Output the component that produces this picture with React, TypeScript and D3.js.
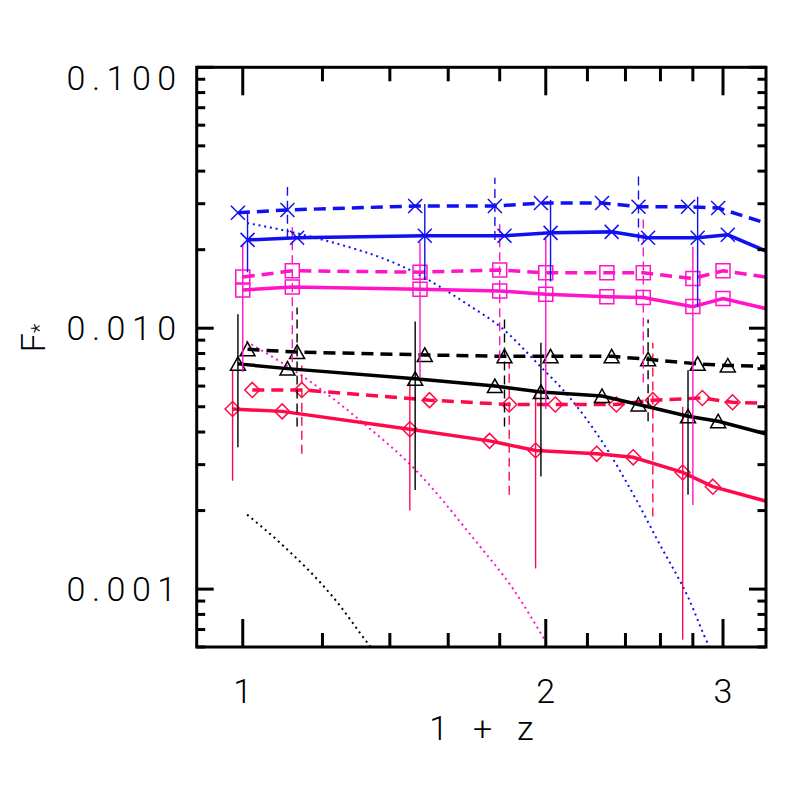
import React from 'react';
import * as d3 from 'd3';

// ---- data ----
const redshift = [1.0, 1.12, 1.5, 1.8, 2.0, 2.3, 2.5, 2.8, 3.0];
const redshiftTail = 3.5;

const blueDashedF = [0.0277, 0.0284, 0.0294, 0.0294, 0.0302, 0.0302, 0.0292, 0.0292, 0.0289];
const blueDashedTail = 0.0239;
const blueDashedErrIdx = [1, 3, 6];
const blueDashedErrLo = [0.0222, 0.0218, 0.0215];
const blueDashedErrHi = [0.0348, 0.0377, 0.0394];

const blueSolidF = [0.0218, 0.0222, 0.0226, 0.0226, 0.0232, 0.0234, 0.0222, 0.0222, 0.0228];
const blueSolidTail = 0.0177;
const blueSolidErrIdx = [0, 2, 4, 7];
const blueSolidErrLo = [0.0164, 0.0153, 0.0151, 0.0121];
const blueSolidErrHi = [0.0277, 0.0299, 0.031, 0.0319];

const magentaDashedF = [0.0157, 0.0166, 0.0164, 0.0167, 0.0163, 0.0163, 0.0163, 0.0155, 0.0166];
const magentaDashedTail = 0.0152;
const magentaDashedErrIdx = [1, 3, 6];
const magentaDashedErrLo = [0.0074, 0.0076, 0.0062];
const magentaDashedErrHi = [0.0244, 0.026, 0.0267];

const magentaSolidF = [0.014, 0.0144, 0.0141, 0.0139, 0.0135, 0.0132, 0.0131, 0.0121, 0.013];
const magentaSolidTail = 0.0113;
const magentaSolidErrIdx = [0, 2, 4, 7];
const magentaSolidErrLo = [0.0068, 0.0065, 0.0049, 0.0021];
const magentaSolidErrHi = [0.0209, 0.0214, 0.0224, 0.0205];

const blackDashedF = [0.0083, 0.0081, 0.0079, 0.0078, 0.0078, 0.0078, 0.0076, 0.0073, 0.0072];
const blackDashedTail = 0.0071;
const blackDashedErrIdx = [1, 3, 6];
const blackDashedErrLo = [0.0042, 0.0042, 0.0044];
const blackDashedErrHi = [0.012, 0.0111, 0.0108];

const blackSolidF = [0.0073, 0.007, 0.0064, 0.006, 0.0057, 0.0055, 0.0051, 0.0046, 0.0044];
const blackSolidTail = 0.00376;
const blackSolidErrIdx = [0, 2, 4, 7];
const blackSolidErrLo = [0.0035, 0.0024, 0.0027, 0.0023];
const blackSolidErrHi = [0.0113, 0.0106, 0.0088, 0.0069];

const redDashedF = [0.0058, 0.0058, 0.0053, 0.0051, 0.0051, 0.0051, 0.0053, 0.0054, 0.0052];
const redDashedTail = 0.0051;
const redDashedErrIdx = [1, 3, 6];
const redDashedErrLo = [0.0033, 0.0023, 0.0019];
const redDashedErrHi = [0.0072, 0.0074, 0.0088];

const redSolidF = [0.0049, 0.0048, 0.0041, 0.0037, 0.0034, 0.0033, 0.0032, 0.0028, 0.00247];
const redSolidTail = 0.0021;
const redSolidErrIdx = [0, 2, 4, 7];
const redSolidErrLo = [0.0026, 0.002, 0.0012, 0.00064];
const redSolidErrHi = [0.0069, 0.0062, 0.0057, 0.005];

// model curves (dotted)
const blueModelZ = [1.01, 1.17, 1.48, 1.68, 1.81, 1.96, 2.11, 2.28, 2.46, 2.58, 2.77, 2.91, 2.95];
const blueModelF = [0.0253, 0.0224, 0.0164, 0.0122, 0.01, 0.00736, 0.00545, 0.00363, 0.0022, 0.00155, 0.00093, 0.0006, 0.00055];
const magentaModelZ = [1.008, 1.17, 1.32, 1.48, 1.71, 1.86, 2.01, 2.05];
const magentaModelF = [0.0089, 0.0062, 0.0043, 0.0029, 0.0015, 0.00099, 0.00061, 0.00054];
const blackModelZ = [1.01, 1.09, 1.23, 1.34, 1.37];
const blackModelF = [0.00193, 0.0015, 0.00093, 0.0006, 0.00054];

const xDomain = [0.9, 3.31];
const yDomain = [0.0006, 0.1];
const xMajorTicks = [1, 2, 3];
const xTickLabels = ['1', '2', '3'];
const xMinorTicks = [1.2, 1.4, 1.6, 1.8, 2.2, 2.4, 2.6, 2.8];
const yMajorTicks = [0.001, 0.01, 0.1];
const yTickLabels = ['0.001', '0.010', '0.100'];
const yMinorTicks = [0.0006, 0.0007, 0.0008, 0.0009, 0.002, 0.003, 0.004, 0.005, 0.006, 0.007, 0.008, 0.009,
  0.02, 0.03, 0.04, 0.05, 0.06, 0.07, 0.08, 0.09];

const BLUE = '#1010f0';
const MAGENTA = '#ff14c8';
const RED = '#ff0a48';
const BLACK = '#000000';

const series = [
  { f: redSolidF, tail: redSolidTail, ei: redSolidErrIdx, lo: redSolidErrLo, hi: redSolidErrHi, color: RED, dashed: false, marker: 'diamond', shift: 0.977 },
  { f: redDashedF, tail: redDashedTail, ei: redDashedErrIdx, lo: redDashedErrLo, hi: redDashedErrHi, color: RED, dashed: true, marker: 'diamond', shift: 1.022 },
  { f: blackSolidF, tail: blackSolidTail, ei: blackSolidErrIdx, lo: blackSolidErrLo, hi: blackSolidErrHi, color: BLACK, dashed: false, marker: 'triangle', shift: 0.989 },
  { f: blackDashedF, tail: blackDashedTail, ei: blackDashedErrIdx, lo: blackDashedErrLo, hi: blackDashedErrHi, color: BLACK, dashed: true, marker: 'triangle', shift: 1.011 },
  { f: magentaSolidF, tail: magentaSolidTail, ei: magentaSolidErrIdx, lo: magentaSolidErrLo, hi: magentaSolidErrHi, color: MAGENTA, dashed: false, marker: 'square', shift: 1.0 },
  { f: magentaDashedF, tail: magentaDashedTail, ei: magentaDashedErrIdx, lo: magentaDashedErrLo, hi: magentaDashedErrHi, color: MAGENTA, dashed: true, marker: 'square', shift: 1.0 },
  { f: blueSolidF, tail: blueSolidTail, ei: blueSolidErrIdx, lo: blueSolidErrLo, hi: blueSolidErrHi, color: BLUE, dashed: false, marker: 'x', shift: 1.011 },
  { f: blueDashedF, tail: blueDashedTail, ei: blueDashedErrIdx, lo: blueDashedErrLo, hi: blueDashedErrHi, color: BLUE, dashed: true, marker: 'x', shift: 0.989 },
];

const models = [
  { z: blackModelZ, f: blackModelF, color: BLACK },
  { z: magentaModelZ, f: magentaModelF, color: MAGENTA },
  { z: blueModelZ, f: blueModelF, color: BLUE },
];

const W = 786;
const H = 786;
const P = { left: 196.7, right: 766, top: 67.3, bottom: 647 };

function markerPath(type: string, cx: number, cy: number): string {
  const s = 7;
  if (type === 'x') return `M${cx - s},${cy - s}L${cx + s},${cy + s}M${cx - s},${cy + s}L${cx + s},${cy - s}`;
  if (type === 'square') return `M${cx - s},${cy - s}H${cx + s}V${cy + s}H${cx - s}Z`;
  if (type === 'triangle') return `M${cx - 7.5},${cy + 6.5}L${cx},${cy - 7}L${cx + 7.5},${cy + 6.5}Z`;
  return `M${cx},${cy - 7.5}L${cx + 7.5},${cy}L${cx},${cy + 7.5}L${cx - 7.5},${cy}Z`;
}

const FONT = 'Roboto, "DejaVu Sans", sans-serif';
const FS = 34;

export default function App() {
  const x = d3.scaleLog().domain(xDomain).range([P.left, P.right]);
  const y = d3.scaleLog().domain(yDomain).range([P.bottom, P.top]);
  const line = d3.line<[number, number]>().x((d) => x(d[0])).y((d) => y(d[1]));
  const curve = d3.line<[number, number]>().x((d) => x(d[0])).y((d) => y(d[1])).curve(d3.curveMonotoneX);

  return (
    <svg width={W} height={H} style={{ position: 'absolute', left: 0, top: 0, background: '#fff' }}>
      <defs>
        <clipPath id="plotclip">
          <rect x={P.left} y={P.top} width={P.right - P.left} height={P.bottom - P.top} />
        </clipPath>
      </defs>
      <rect x={0} y={0} width={W} height={H} fill="#fff" />
      <g clipPath="url(#plotclip)">
        {models.map((m, i) => (
          <path key={'m' + i} d={curve(m.z.map((z, j) => [z, m.f[j]]) as [number, number][]) || ''}
            fill="none" stroke={m.color} strokeWidth={2} strokeDasharray="2 3.8" />
        ))}
        {series.map((s, i) => {
          const pts: [number, number][] = s.f.map((v, j) => [redshift[j] * s.shift, v]);
          pts.push([redshiftTail * s.shift, s.tail]);
          return (
            <g key={'s' + i}>
              {s.ei.map((idx, k) => (
                <line key={k} x1={x(redshift[idx] * s.shift)} x2={x(redshift[idx] * s.shift)}
                  y1={y(s.lo[k])} y2={y(s.hi[k])} stroke={s.color} strokeWidth={1.4}
                  strokeDasharray={s.dashed ? '9 5' : undefined} />
              ))}
              <path d={line(pts) || ''} fill="none" stroke={s.color} strokeWidth={3.5}
                strokeDasharray={s.dashed ? '12 7' : undefined} />
              {s.f.map((v, j) => (
                <path key={'p' + j} d={markerPath(s.marker, x(redshift[j] * s.shift), y(v))}
                  fill="none" stroke={s.color} strokeWidth={1.5} />
              ))}
            </g>
          );
        })}
      </g>
      {/* frame */}
      <rect x={P.left} y={P.top} width={P.right - P.left} height={P.bottom - P.top} fill="none" stroke="#000" strokeWidth={3} />
      {/* x ticks */}
      {xMajorTicks.map((v) => (
        <g key={'xM' + v}>
          <line x1={x(v)} x2={x(v)} y1={P.bottom} y2={P.bottom - 28} stroke="#000" strokeWidth={3} />
          <line x1={x(v)} x2={x(v)} y1={P.top} y2={P.top + 28} stroke="#000" strokeWidth={3} />
        </g>
      ))}
      {xMinorTicks.map((v) => (
        <g key={'xm' + v}>
          <line x1={x(v)} x2={x(v)} y1={P.bottom} y2={P.bottom - 14} stroke="#000" strokeWidth={3} />
          <line x1={x(v)} x2={x(v)} y1={P.top} y2={P.top + 14} stroke="#000" strokeWidth={3} />
        </g>
      ))}
      {yMajorTicks.map((v) => (
        <g key={'yM' + v}>
          <line x1={P.left} x2={P.left + 17} y1={y(v)} y2={y(v)} stroke="#000" strokeWidth={3} />
          <line x1={P.right} x2={P.right - 17} y1={y(v)} y2={y(v)} stroke="#000" strokeWidth={3} />
        </g>
      ))}
      {yMinorTicks.map((v) => (
        <g key={'ym' + v}>
          <line x1={P.left} x2={P.left + 8.5} y1={y(v)} y2={y(v)} stroke="#000" strokeWidth={3} />
          <line x1={P.right} x2={P.right - 8.5} y1={y(v)} y2={y(v)} stroke="#000" strokeWidth={3} />
        </g>
      ))}
      {/* tick labels */}
      {xMajorTicks.map((v, i) => (
        <text key={'xl' + v} x={x(v)} y={P.bottom + 56} textAnchor="middle" fontFamily={FONT}
          fontWeight={300} fontSize={FS} fill="#000">{xTickLabels[i]}</text>
      ))}
      {yMajorTicks.map((v, i) => (
        <text key={'yl' + v} x={P.left - 14} y={Math.max(y(v), P.top + 10)} dy="0.36em" textAnchor="end"
          fontFamily={FONT} fontWeight={300} fontSize={FS} letterSpacing={6.5} fill="#000">{yTickLabels[i]}</text>
      ))}
      <text x={(P.left + P.right) / 2} y={P.bottom + 93} textAnchor="middle" fontFamily={FONT}
        fontWeight={300} fontSize={FS} fill="#000" xmlSpace="preserve" style={{ whiteSpace: 'pre' }}>1   +   z</text>
      <text transform={`translate(45,${(P.top + P.bottom) / 2 - 5}) rotate(-90)`} fontFamily={FONT}
        fontWeight={300} fontSize={FS} fill="#000">F<tspan fontSize={22} dy={2}>*</tspan></text>
    </svg>
  );
}
